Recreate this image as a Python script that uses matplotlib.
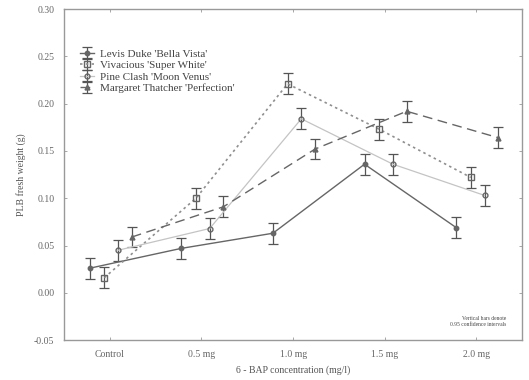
import numpy as np
import matplotlib
matplotlib.use("Agg")
import matplotlib.pyplot as plt

# chart data
categories = ["Control", "0.5 mg", "1.0 mg", "1.5 mg", "2.0 mg"]
levis = [0.026, 0.047, 0.063, 0.136, 0.069]
vivacious = [0.016, 0.100, 0.221, 0.173, 0.122]
pine = [0.045, 0.068, 0.184, 0.136, 0.103]
margaret = [0.059, 0.091, 0.152, 0.192, 0.164]
ci = [0.011, 0.011, 0.011, 0.011, 0.011]

labels = ["Levis Duke 'Bella Vista'", "Vivacious 'Super White'",
          "Pine Clash 'Moon Venus'", "Margaret Thatcher 'Perfection'"]

plt.rcParams['font.family'] = ['Liberation Serif', 'DejaVu Serif']

fig = plt.figure(figsize=(5.29, 3.80), dpi=100)
ax = fig.add_axes([0.121, 0.105, 0.866, 0.871])

x = np.arange(len(categories))
styles = [
    dict(values=levis, off=-0.22, color="#666666", ls="-", lw=1.0, marker="o", mfc="#666666", ms=3.2),
    dict(values=vivacious, off=-0.06, color="#8f8f8f", ls=(0, (1.5, 2.0)), lw=1.2, marker="s", mfc="none", ms=4.5),
    dict(values=pine, off=0.09, color="#c4c4c4", ls="-", lw=0.9, marker="o", mfc="none", ms=3.5),
    dict(values=margaret, off=0.24, color="#666666", ls=(0, (7, 4)), lw=1.0, marker="^", mfc="#666666", ms=3.5),
]

for s, lab in zip(styles, labels):
    ax.errorbar(x + s["off"], s["values"], yerr=ci, color=s["color"], ls=s["ls"],
                lw=s["lw"], marker=s["marker"], mfc=s["mfc"], mec="#666666", ms=s["ms"],
                ecolor="#555555", elinewidth=0.9, capsize=3.5, capthick=0.9, label=lab)

ax.set_xlim(-0.5, 4.5)
ax.set_ylim(-0.05, 0.30)
ax.set_xticks(x)
ax.set_xticklabels(categories)
ax.set_yticks(np.arange(-0.05, 0.301, 0.05))
ax.set_yticklabels(["-0.05", "0.00", "0.05", "0.10", "0.15", "0.20", "0.25", "0.30"])
ax.tick_params(direction="in", length=2.5, width=0.6, colors="#999999",
               labelcolor="#666666", labelsize=7, top=True, right=True, pad=7)
for sp in ax.spines.values():
    sp.set_color("#999999")
    sp.set_linewidth(1.0)

ax.set_xlabel("6 - BAP concentration (mg/l)", fontsize=7, color="#555555", labelpad=5)
ax.set_ylabel("PLB fresh weight (g)", fontsize=7, color="#555555", labelpad=6)

leg = ax.legend(loc="upper left", bbox_to_anchor=(0.02, 0.9), frameon=False,
                fontsize=8, handlelength=1.3, handletextpad=0.5, labelspacing=0.15,
                borderaxespad=0.2)
for t in leg.get_texts():
    t.set_color("#444444")

ax.text(0.965, 0.055, "Vertical bars denote\n0.95 confidence intervals", transform=ax.transAxes,
        fontsize=4, color="#444444", ha="right", va="center", linespacing=1.3)

fig.savefig("out.png", dpi=100)
